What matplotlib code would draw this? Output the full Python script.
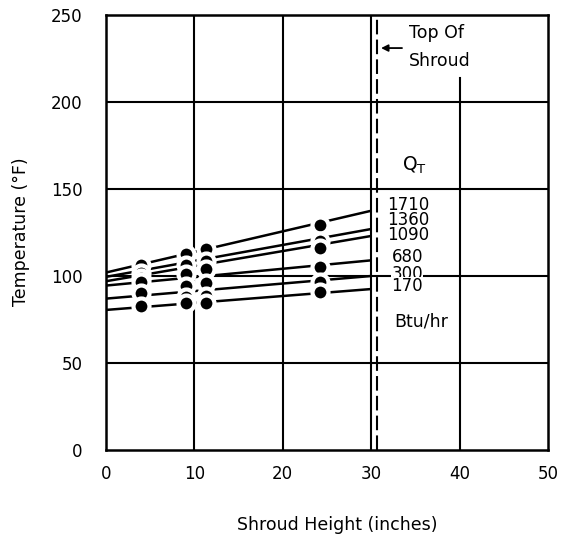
import matplotlib
matplotlib.use("Agg")
import matplotlib.pyplot as plt

# ---- data ----
x_points = [4.0, 9.0, 11.3, 24.2]
q_labels = ["1710", "1360", "1090", "680", "300", "170"]
temps = {
    "1710": [106.5, 112.5, 115.5, 129.5],
    "1360": [101.5, 106.5, 108.5, 120.0],
    "1090": [99.0, 101.0, 104.0, 116.0],
    "680":  [96.5, 94.5, 96.0, 105.0],
    "300":  [90.0, 88.0, 88.5, 96.5],
    "170":  [82.5, 84.5, 84.5, 91.0],
}
# fitted lines, read at x = 0 and x = 30
line_x = [0, 30]
line_y = {
    "1710": [102.0, 137.5],
    "1360": [99.5, 127.0],
    "1090": [97.0, 123.0],
    "680":  [94.5, 109.0],
    "300":  [87.0, 100.0],
    "170":  [80.5, 92.5],
}
label_y = [141.0, 132.0, 123.3, 110.8, 101.0, 94.3]
label_x = [31.8, 31.8, 31.8, 32.3, 32.3, 32.3]
shroud_top = 30.7
x_ticks = [0, 10, 20, 30, 40, 50]
y_ticks = [0, 50, 100, 150, 200, 250]

fig = plt.figure(figsize=(5.67, 5.38), dpi=100)
ax = fig.add_axes([106 / 567, 1 - 450 / 538, 442 / 567, 435 / 538])
ax.set_xlim(0, 50)
ax.set_ylim(0, 250)

# grid
for xv in x_ticks[1:-1]:
    top = 214 / 250 if xv == 40 else 1.0
    ax.axvline(xv, ymin=0, ymax=top, color="black", lw=1.5, zorder=1)
for yv in y_ticks[1:-1]:
    ax.axhline(yv, color="black", lw=1.5, zorder=1)

for s in ax.spines.values():
    s.set_linewidth(1.8)

# data
for q in q_labels:
    ax.plot(line_x, line_y[q], color="black", lw=1.8, zorder=3,
            solid_capstyle="butt")
    ax.plot(x_points, temps[q], linestyle="none", marker="o",
            markersize=11.5, markerfacecolor="black",
            markeredgecolor="white", markeredgewidth=3, zorder=4)

# top of shroud
ax.axvline(shroud_top, color="black", lw=1.5, dashes=(7, 2.5), zorder=2)
ax.annotate("", xy=(shroud_top + 0.1, 231), xytext=(33.8, 231),
            arrowprops=dict(arrowstyle="-|>", color="black", lw=1.3,
                            mutation_scale=10), zorder=5)
ax.text(34.3, 239.5, "Top Of", fontsize=12.5, va="center", ha="left")
ax.text(34.3, 223.5, "Shroud", fontsize=12.5, va="center", ha="left")

# labels of series
ax.text(33.5, 163.5, r"Q$_\mathregular{T}$", fontsize=13.5, va="center", ha="left")
for q, lx, ly in zip(q_labels, label_x, label_y):
    ax.text(lx, ly, q, fontsize=12, va="center", ha="left", zorder=6,
            bbox=dict(facecolor="white", edgecolor="none", pad=0.1))
ax.text(32.6, 73.7, "Btu/hr", fontsize=12.5, va="center", ha="left")

ax.set_xticks(x_ticks)
ax.set_yticks(y_ticks)
ax.tick_params(length=0, labelsize=12)
ax.tick_params(axis="y", pad=17)
ax.tick_params(axis="x", pad=11)

fig.text(337 / 567, 1 - 525 / 538, "Shroud Height (inches)", fontsize=12.5,
         ha="center", va="center")
fig.text(21 / 567, 1 - 232 / 538, "Temperature (°F)", fontsize=12.5,
         ha="center", va="center", rotation=90)

fig.savefig("out.png", dpi=100)
